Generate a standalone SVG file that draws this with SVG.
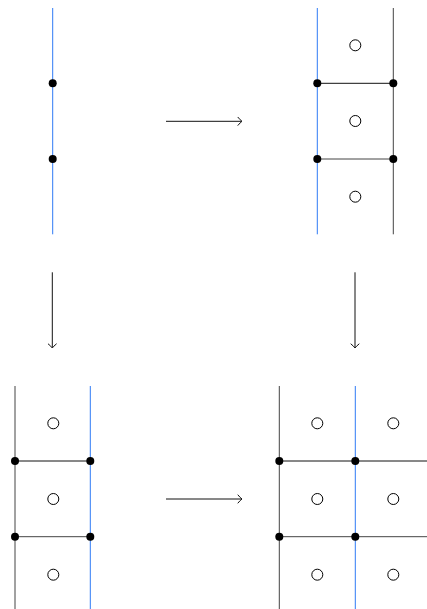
<svg xmlns="http://www.w3.org/2000/svg" width="427" height="609" viewBox="0 0 427 609">
<style>
.blue{stroke:#2f7bf5;stroke-width:1;fill:none}
.gray{stroke:#444;stroke-width:1;fill:none}
.edge{stroke:#111;stroke-width:1;fill:none}
.dot{fill:#000}
.face{fill:#fff;stroke:#000;stroke-width:1}
.arr{stroke:#111;stroke-width:1;fill:none}
.head{stroke:#111;stroke-width:1;fill:none;stroke-linecap:round;stroke-linejoin:round}
</style>
<defs>
<marker id="to" viewBox="-6 -5 8 10" markerWidth="8" markerHeight="10" refX="0" refY="0" markerUnits="userSpaceOnUse" orient="auto">
<path class="head" d="M-3.5,-4 Q-1,-1 0.5,0 Q-1,1 -3.5,4"/>
</marker>
</defs>
<g id="n-topleft">
<line class="blue" x1="52.7" y1="8" x2="52.7" y2="234.3"/>
<circle class="dot" cx="52.7" cy="83.3" r="4"/>
<circle class="dot" cx="52.7" cy="159" r="4"/>
</g>
<g id="n-topright">
<line class="blue" x1="317.3" y1="8" x2="317.3" y2="234.3"/>
<line class="gray" x1="393.3" y1="8" x2="393.3" y2="234.3"/>
<line class="edge" x1="317.3" y1="83.3" x2="393.3" y2="83.3"/>
<line class="gray" x1="317.3" y1="159" x2="393.3" y2="159"/>
<circle class="dot" cx="317.3" cy="83.3" r="4"/>
<circle class="dot" cx="393.3" cy="83.3" r="4"/>
<circle class="dot" cx="317.3" cy="159" r="4"/>
<circle class="dot" cx="393.3" cy="159" r="4"/>
<circle class="face" cx="355.3" cy="45.3" r="5.5"/>
<circle class="face" cx="355.3" cy="121" r="5.5"/>
<circle class="face" cx="355.3" cy="196.7" r="5.5"/>
</g>
<g id="n-bottomleft">
<line class="gray" x1="15" y1="386" x2="15" y2="609"/>
<line class="blue" x1="90.3" y1="386" x2="90.3" y2="609"/>
<line class="edge" x1="15" y1="461" x2="90.3" y2="461"/>
<line class="gray" x1="15" y1="536.7" x2="90.3" y2="536.7"/>
<circle class="dot" cx="15" cy="461" r="4"/>
<circle class="dot" cx="90.3" cy="461" r="4"/>
<circle class="dot" cx="15" cy="536.7" r="4"/>
<circle class="dot" cx="90.3" cy="536.7" r="4"/>
<circle class="face" cx="53.3" cy="423.3" r="5.5"/>
<circle class="face" cx="53.3" cy="499" r="5.5"/>
<circle class="face" cx="53.3" cy="574.7" r="5.5"/>
</g>
<g id="n-bottomright">
<line class="gray" x1="279.3" y1="386" x2="279.3" y2="609"/>
<line class="blue" x1="355.3" y1="386" x2="355.3" y2="609"/>
<line class="edge" x1="279.3" y1="461" x2="427" y2="461"/>
<line class="gray" x1="279.3" y1="536.7" x2="427" y2="536.7"/>
<circle class="dot" cx="279.3" cy="461" r="4"/>
<circle class="dot" cx="355.3" cy="461" r="4"/>
<circle class="dot" cx="279.3" cy="536.7" r="4"/>
<circle class="dot" cx="355.3" cy="536.7" r="4"/>
<circle class="face" cx="317.3" cy="423.3" r="5.5"/>
<circle class="face" cx="393.3" cy="423.3" r="5.5"/>
<circle class="face" cx="317.3" cy="499" r="5.5"/>
<circle class="face" cx="393.3" cy="499" r="5.5"/>
<circle class="face" cx="317.3" cy="574.7" r="5.5"/>
<circle class="face" cx="393.3" cy="574.7" r="5.5"/>
</g>
<g id="connectors">
<line class="arr" x1="166" y1="121.3" x2="241.5" y2="121.3" marker-end="url(#to)"/>
<line class="arr" x1="166" y1="499" x2="241.5" y2="499" marker-end="url(#to)"/>
<line class="arr" x1="52.3" y1="272.3" x2="52.3" y2="347.5" marker-end="url(#to)"/>
<line class="arr" x1="355" y1="272.3" x2="355" y2="347.5" marker-end="url(#to)"/>
</g>
</svg>
